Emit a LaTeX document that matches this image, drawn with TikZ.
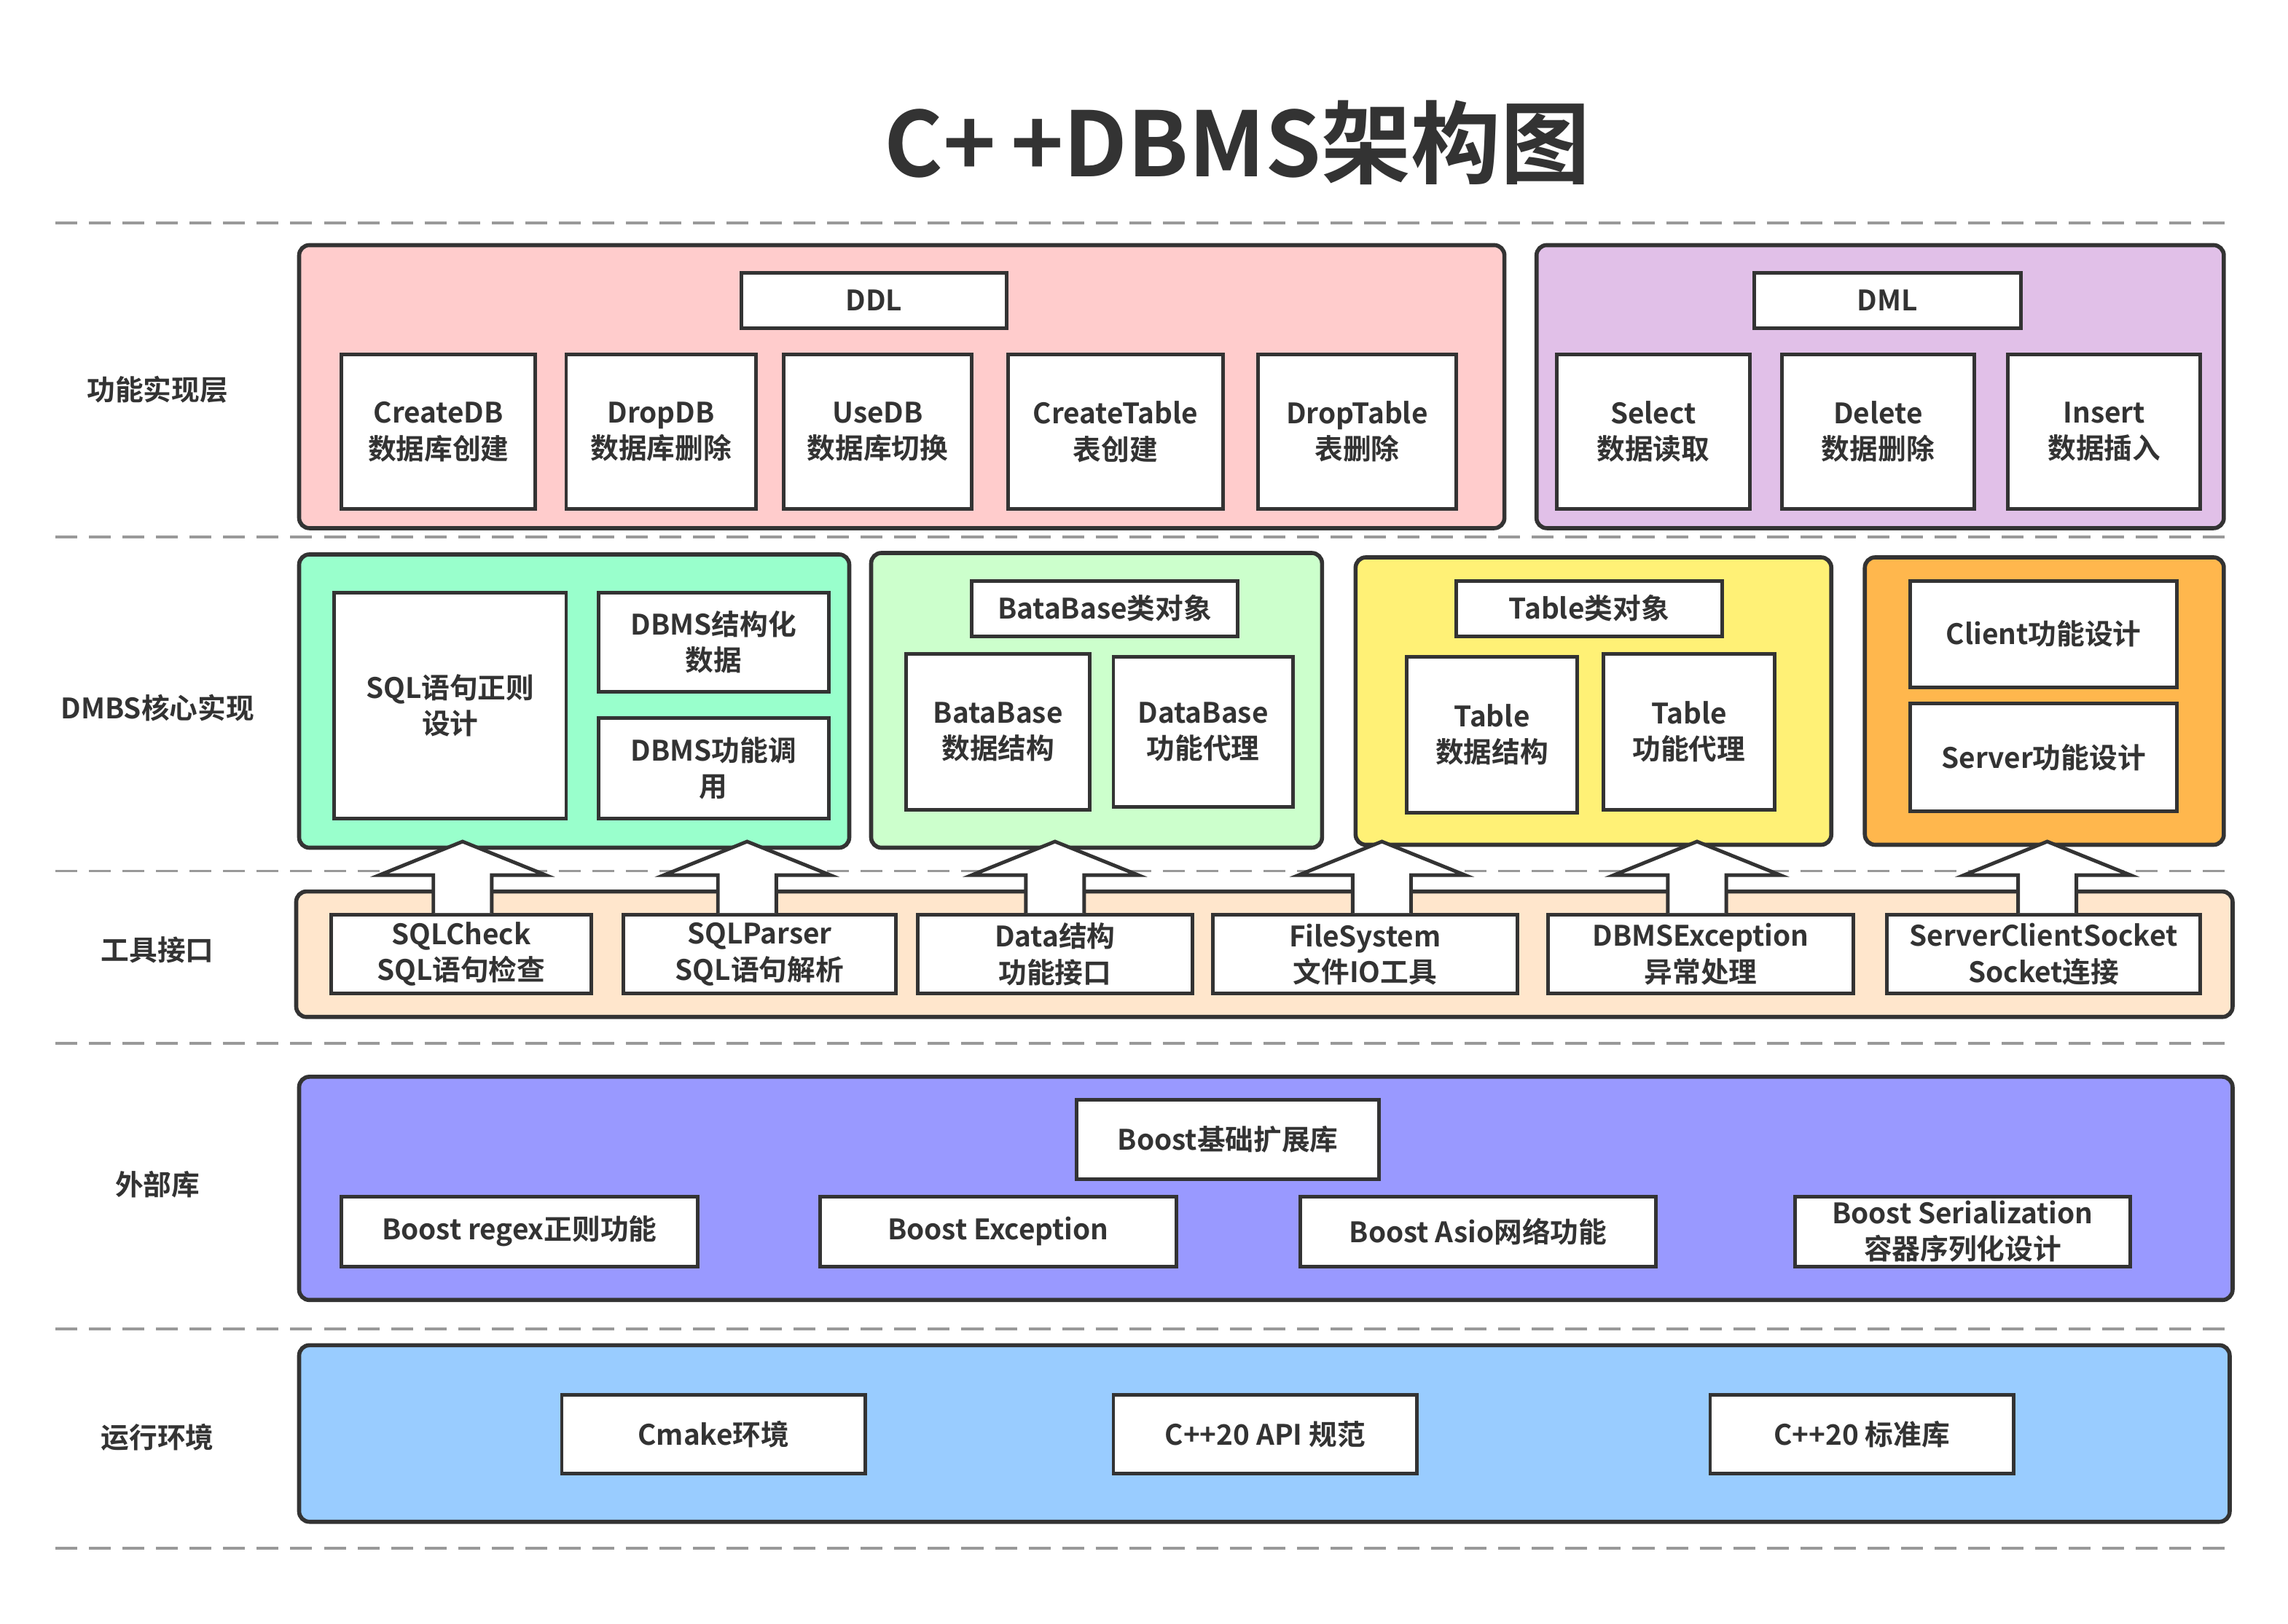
\documentclass[tikz,border=0pt]{standalone}
\usepackage{fontspec}
\setmainfont{Noto Sans CJK SC}[BoldFont={Noto Sans CJK SC Bold}]
\usepackage{xcolor}
\usepackage{tikz}

\definecolor{ink}{HTML}{333333}
\definecolor{sepgray}{HTML}{999999}
\definecolor{pinkbg}{HTML}{FFCCCC}
\definecolor{lavbg}{HTML}{E1C0E8}
\definecolor{mintbg}{HTML}{99FFCC}
\definecolor{greenbg}{HTML}{CCFFCC}
\definecolor{yellowbg}{HTML}{FFF176}
\definecolor{orangebg}{HTML}{FFB74D}
\definecolor{peachbg}{HTML}{FFE6CC}
\definecolor{bluebg}{HTML}{9999FF}
\definecolor{skybg}{HTML}{99CCFF}

\begin{document}
\begin{tikzpicture}[
  x=0.02cm, y=-0.02cm,
  grp/.style={draw=ink, line width=1.6pt, rounded corners=4pt, inner sep=0pt},
  item/.style={draw=ink, line width=1.4pt, fill=white, text=ink, align=center,
               inner sep=1pt, font=\fontsize{11}{14}\selectfont\bfseries},
  sz/.style 2 args={minimum width=#1*0.02cm, minimum height=#2*0.02cm},
  layer/.style={text=ink, font=\fontsize{11}{14}\selectfont\bfseries},
  sep/.style={draw=sepgray, line width=1.1pt, dash pattern=on 0.3cm off 0.16cm},
  fat/.style={draw=ink, line width=1.4pt, fill=white}
]

\useasboundingbox (0,0) rectangle (1568,1113);
\fill[white] (0,0) rectangle (1568,1113);

\node[text=ink, font=\fontsize{35}{42}\selectfont\bfseries] (title) at (848,98) {C+\,+DBMS架构图};

\foreach \y in {153, 368, 597, 715, 911, 1061}{
  \draw[sep] (38,\y) -- (1530,\y);
}

\foreach \nm/\y/\lbl in {func/267/功能实现层, core/485/DMBS核心实现, tool/651/工具接口,
                        ext/812/外部库, run/985/运行环境}{
  \node[layer] (\nm) at (108,\y) {\lbl};
}

\foreach \nm/\x/\y/\w/\h/\c in {ddlgrp/618/265/826/194/pinkbg, dmlgrp/1288.5/265/471/194/lavbg,
    coregrp/393.5/480.5/377/201/mintbg, dbgrp/751.5/480/309/202/greenbg,
    tblgrp/1092/480.5/326/197/yellowbg, netgrp/1401/480.5/246/197/orangebg,
    toolgrp/866.5/654/1327/86/peachbg, libgrp/867.5/814.5/1325/153/bluebg,
    envgrp/866.5/982.5/1323/121/skybg}{
  \node[grp, fill=\c, sz={\w}{\h}] (\nm) at (\x,\y) {};
}

\foreach \nm/\x/\y/\w/\h/\lbl in {ddl/599/206/182/38/{DDL}, dml/1293.5/206/183/38/{DML},
    createdb/300.5/296/133/106/{CreateDB\\数据库创建}, dropdb/453/296/130/106/{DropDB\\数据库删除},
    usedb/601.5/296/129/106/{UseDB\\数据库切换}, createtbl/764.5/296/147/106/{CreateTable\\表创建},
    droptbl/930/296/136/106/{DropTable\\表删除}, select/1133/296/132/106/{Select\\数据读取},
    delete/1287/296/132/106/{Delete\\数据删除}, insert/1442/296/132/106/{Insert\\数据插入}}{
  \node[item, sz={\w}{\h}] (\nm) at (\x,\y) {\lbl};
}

\foreach \nm/\x/\y/\w/\h/\lbl in {regex/308.5/483.5/159/155/{SQL语句正则\\设计},
    struct/489/440/158/68/{DBMS结构化\\数据}, call/489/526.5/158/69/{DBMS功能调\\用},
    dbhead/757/417/182/38/{BataBase类对象}, dbdata/684/501.5/126/107/{BataBase\\数据结构},
    dbproxy/824.5/501.5/123/103/{DataBase\\功能代理}, tblhead/1089/417/182/38/{Table类对象},
    tbldata/1022.5/503.5/117/107/{Table\\数据结构}, tblproxy/1157.5/501.5/117/107/{Table\\功能代理},
    client/1400.5/434.5/183/73/{Client功能设计}, server/1400.5/519/183/74/{Server功能设计}}{
  \node[item, sz={\w}{\h}] (\nm) at (\x,\y) {\lbl};
}

\foreach \nm/\x/\w/\lbl in {chk/316/178/{SQLCheck\\SQL语句检查}, prs/520.5/187/{SQLParser\\SQL语句解析},
    dat/723/188/{Data结构\\功能接口}, fs/935.5/209/{FileSystem\\文件IO工具},
    exc/1165.5/209/{DBMSException\\异常处理}, sck/1400.5/215/{ServerClientSocket\\Socket连接}}{
  \node[item, sz={\w}{54}] (\nm) at (\x,654) {\lbl};
}

\node[item, sz={207}{54}] (boost) at (841.5,781) {Boost基础扩展库};
\foreach \nm/\x/\w/\lbl in {regexlib/356/244/{Boost regex正则功能}, exclib/684/244/{Boost Exception},
    asio/1013/244/{Boost Asio网络功能}, serial/1345/230/{Boost Serialization\\容器序列化设计}}{
  \node[item, sz={\w}{48}] (\nm) at (\x,844) {\lbl};
}

\foreach \nm/\x/\lbl in {cmake/489/{Cmake环境}, api/867/{C++20 API 规范}, std/1276/{C++20 标准库}}{
  \node[item, sz={208}{54}] (\nm) at (\x,983) {\lbl};
}

\foreach \a/\dx in {chk/1, prs/-8.5, dat/0, fs/11.5, exc/-2.5, sck/2.5}{
  \draw[fat] (\a.north) ++(\dx-20,0) -- ++(0,-26) -- ++(-37,0) -- ++(57,-23)
    -- ++(57,23) -- ++(-37,0) -- ++(0,26);
}

\end{tikzpicture}
\end{document}
